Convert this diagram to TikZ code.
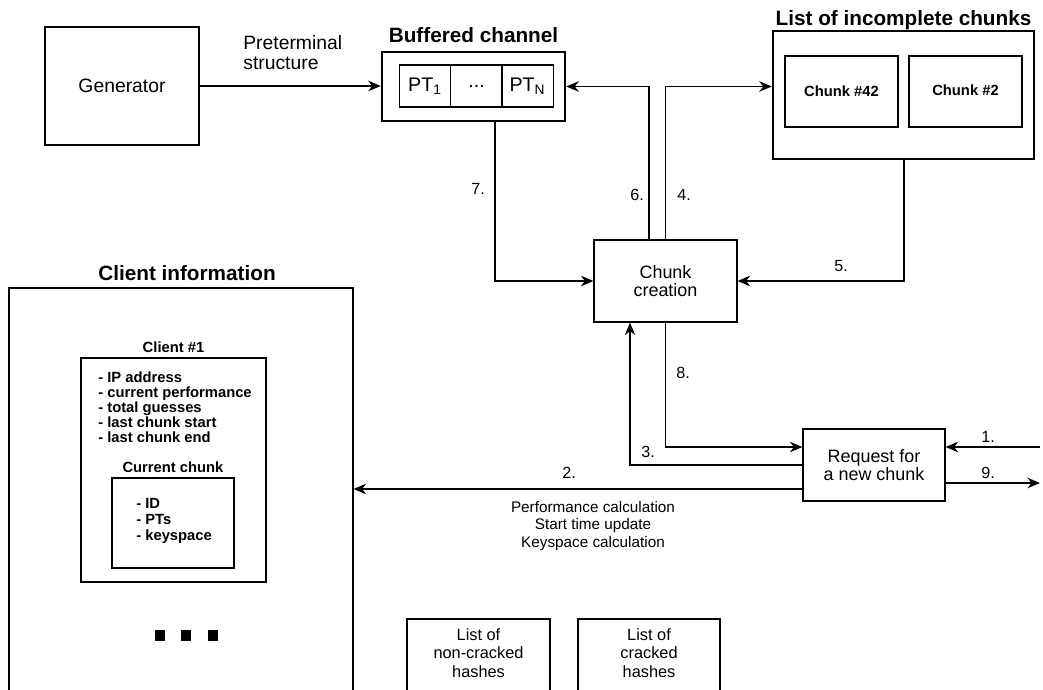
\documentclass[tikz,border=0pt]{standalone}
\usepackage{fontspec}
\setmainfont{Liberation Sans}
\usetikzlibrary{arrows.meta}

\tikzset{
  box/.style={draw, line width=0.7pt, inner sep=0pt, align=center},
  thickbox/.style={draw, line width=1.5pt, inner sep=0pt},
  cell/.style={draw, line width=0.7pt, inner sep=0pt, minimum width=1.03cm,
    minimum height=0.84cm, font=\fontsize{11.2}{13}\selectfont},
  txt/.style={font=\fontsize{10.2}{10.5}\selectfont, align=center},
  title/.style={font=\bfseries\fontsize{11.8}{14}\selectfont, inner sep=0pt},
  small/.style={font=\bfseries\fontsize{8.4}{8.5}\selectfont, align=left, inner sep=0pt},
  lbl/.style={font=\fontsize{9.2}{11}\selectfont, inner sep=0pt},
  arr/.style={line width=0.7pt, -{Stealth[length=2.5mm,width=2.1mm,inset=0.8mm]}},
  dot/.style={fill, inner sep=0pt, minimum size=0.21cm},
}

\begin{document}
\begin{tikzpicture}[x=0.02cm, y=-0.02cm]
    \useasboundingbox (0,0) rectangle (1043,689);

    % generator and the buffered channel
    \node[box, minimum width=3.08cm, minimum height=2.36cm, font=\fontsize{11}{13}\selectfont] (gen) at (122,86) {Generator};
    \node[anchor=west, align=left, inner sep=0pt, font=\fontsize{11}{11.3}\selectfont] (ptlabel) at (243,53) {Preterminal\\structure};
    \node[thickbox, minimum width=3.66cm, minimum height=1.38cm] (buf) at (473.5,86.5) {};
    \node[title] (buftitle) at (473.5,35) {Buffered channel};
    \node[cell] (pt1) at (425,86) {PT\textsubscript{1}};
    \node[cell] (ptdots) at (476.5,86) {...};
    \node[cell] (ptn) at (527.5,86) {PT\textsubscript{N}};

    % incomplete chunks
    \node[thickbox, minimum width=5.22cm, minimum height=2.56cm] (inc) at (903.5,95) {};
    \node[title] (inctitle) at (903.5,20) {List of incomplete chunks};
    \node[box, minimum width=2.26cm, minimum height=1.42cm, font=\bfseries\fontsize{8.4}{10}\selectfont] (c42) at (841.5,91.5) {Chunk \#42};
    \node[box, minimum width=2.26cm, minimum height=1.42cm, font=\bfseries\fontsize{8.4}{10}\selectfont] (c2) at (965.5,91.5) {\raisebox{1pt}{Chunk \#2}};

    % chunk creation and requests
    \node[box, txt, minimum width=2.86cm, minimum height=1.64cm] (cc) at (665.5,281) {Chunk\\creation};
    \node[box, txt, minimum width=2.84cm, minimum height=1.44cm] (req) at (874,465) {Request for\\a new chunk};
    \coordinate (in1) at (1040,447);
    \coordinate (out9) at (1040,483);

    % client information
    \node[box, minimum width=6.88cm, minimum height=8.64cm] (cli) at (181,504) {};
    \node[title] (clititle) at (187,273) {Client information};
    \node[box, minimum width=3.7cm, minimum height=4.48cm] (cl1) at (173.5,470) {};
    \node[small] (cl1title) at (173.5,347) {Client \#1};
    \node[small, anchor=west] (cl1items) at (98,407) {- IP address\\- current performance\\- total guesses\\- last chunk start\\- last chunk end};
    \node[small] (curtitle) at (173,467) {Current chunk};
    \node[box, minimum width=2.44cm, minimum height=1.8cm] (cur) at (173,523) {};
    \node[small, anchor=west, font=\bfseries\fontsize{8.4}{9.1}\selectfont] (curitems) at (136,521) {- ID\\- PTs\\- keyspace};
    \foreach \x in {160,186,213}
        \node[dot] (dot\x) at (\x,635.5) {};

    % hash lists
    \node[box, minimum width=2.86cm, minimum height=2cm] (nch) at (478.5,669) {};
    \node[align=center, inner sep=0pt, font=\fontsize{9.3}{10.5}\selectfont] (nchtext) at (478.5,653) {List of\\non-cracked\\hashes};
    \node[box, minimum width=2.84cm, minimum height=2cm] (ch) at (649,669) {};
    \node[align=center, inner sep=0pt, font=\fontsize{9.3}{10.5}\selectfont] (chtext) at (649,653) {List of\\cracked\\hashes};

    % connectors
    \draw[arr] (gen.east) -- (gen.east -| buf.west);
    \draw[arr] ([xshift=-0.33cm]cc.north) |- (buf.east);
    \draw[arr] (cc.north) |- (buf.east -| inc.west);
    \draw[arr] ([xshift=0.43cm]buf.south) |- (cc.west);
    \draw[arr] ([xshift=0.01cm]inc.south) |- (cc.east);
    \draw[arr] (cc.south) |- ([yshift=0.36cm]req.west);
    \draw[arr] (req.west) -| ([xshift=-0.71cm]cc.south);
    \draw[arr] ([yshift=-0.48cm]req.west) -- ([yshift=-0.48cm]req.west -| cli.east);
    \draw[arr] (in1) -- (in1 -| req.east);
    \draw[arr] (out9 -| req.east) -- (out9);

    % step numbers
    \node[lbl] (n1) at (988,437) {1.};
    \node[lbl] (n2) at (569,473) {2.};
    \node[lbl] (n3) at (648,452) {3.};
    \node[lbl] (n4) at (684,195) {4.};
    \node[lbl] (n5) at (841,266) {5.};
    \node[lbl] (n6) at (637,195) {6.};
    \node[lbl] (n7) at (478,189) {7.};
    \node[lbl] (n8) at (683,373) {8.};
    \node[lbl] (n9) at (988,473) {9.};
    \node[align=center, inner sep=0pt, font=\fontsize{8.7}{10.2}\selectfont] (calc) at (593,526) {Performance calculation\\Start time update\\Keyspace calculation};
\end{tikzpicture}
\end{document}
